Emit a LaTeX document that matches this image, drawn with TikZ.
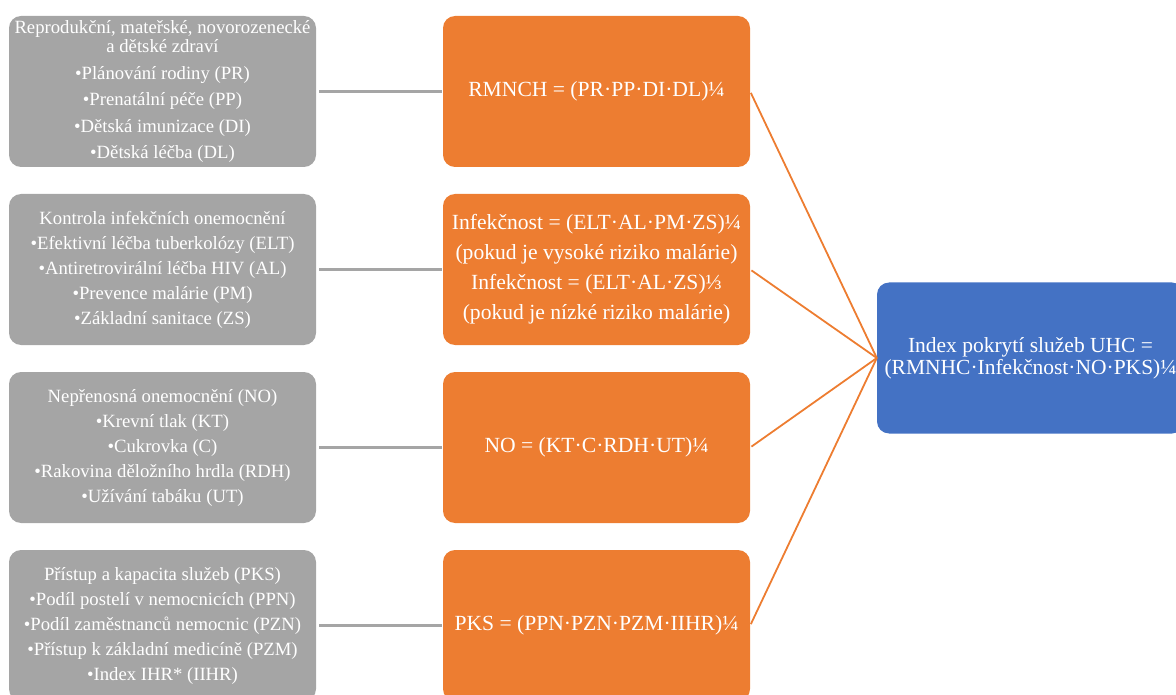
\documentclass[tikz,border=0pt]{standalone}
\usepackage{fontspec}
\setmainfont{Liberation Serif}
\definecolor{boxgray}{HTML}{A5A5A5}
\definecolor{boxorange}{HTML}{ED7D31}
\definecolor{boxblue}{HTML}{4472C4}
\begin{document}
\begin{tikzpicture}[x=1pt,y=-1pt,
  basebox/.style={rounded corners=12pt, minimum width=307pt, minimum height=151pt,
    inner sep=0pt, align=center, text=white},
  graybox/.style={basebox, fill=boxgray, font=\fontsize{18.7}{19.5}\selectfont},
  graybox5/.style={basebox, fill=boxgray, font=\fontsize{18.7}{25}\selectfont},
  orangebox/.style={basebox, fill=boxorange, font=\fontsize{21.6}{30}\selectfont},
  bluebox/.style={basebox, fill=boxblue, font=\fontsize{21.5}{22}\selectfont},
  grayline/.style={draw=boxgray, line width=2.5pt, shorten <=3pt, shorten >=1pt},
  orangeline/.style={draw=boxorange, line width=1.8pt, shorten <=1.5pt}
]
\useasboundingbox (0,0) rectangle (1176,695);
\clip (0,0) rectangle (1176,695);

\node[graybox] (g1) at (162.5,91.5) {Reprodukční, mateřské, novorozenecké\\a dětské zdraví\\[7pt]•Plánování rodiny (PR)\\[7pt]•Prenatální péče (PP)\\[7pt]•Dětská imunizace (DI)\\[7pt]•Dětská léčba (DL)};
\node[graybox5] (g2) at (162.5,269.5) {Kontrola infekčních onemocnění\\•Efektivní léčba tuberkolózy (ELT)\\•Antiretrovirální léčba HIV (AL)\\•Prevence malárie (PM)\\•Základní sanitace (ZS)};
\node[graybox5] (g3) at (162.5,447.5) {Nepřenosná onemocnění (NO)\\•Krevní tlak (KT)\\•Cukrovka (C)\\•Rakovina děložního hrdla (RDH)\\•Užívání tabáku (UT)};
\node[graybox5] (g4) at (162.5,625.5) {Přístup a kapacita služeb (PKS)\\•Podíl postelí v nemocnicích (PPN)\\•Podíl zaměstnanců nemocnic (PZN)\\•Přístup k základní medicíně (PZM)\\•Index IHR* (IIHR)};

\node[orangebox] (o1) at (596.5,91.5) {RMNCH = (PR·PP·DI·DL)¼};
\node[orangebox] (o2) at (596.5,269.5) {Infekčnost = (ELT·AL·PM·ZS)¼\\(pokud je vysoké riziko malárie)\\Infekčnost = (ELT·AL·ZS)⅓\\(pokud je nízké riziko malárie)};
\node[orangebox] (o3) at (596.5,447.5) {NO = (KT·C·RDH·UT)¼};
\node[orangebox] (o4) at (596.5,625.5) {PKS = (PPN·PZN·PZM·IIHR)¼};

\node[bluebox] (b) at (1030.5,358) {Index pokrytí služeb UHC =\\(RMNHC·Infekčnost·NO·PKS)¼};

\foreach \i in {1,2,3,4} {
  \draw[grayline] (g\i.east) -- (o\i.west);
  \draw[orangeline] (o\i.east) -- (b.west);
}
\end{tikzpicture}
\end{document}
